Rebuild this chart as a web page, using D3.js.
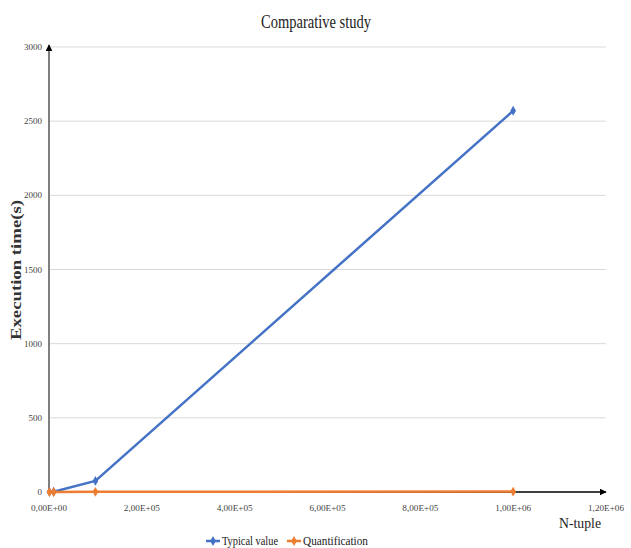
<!DOCTYPE html>
<html>
<head>
<meta charset="utf-8">
<script src="https://cdn.jsdelivr.net/npm/d3@7"></script>
<style>
  body { margin: 0; background: #fff; }
  svg { display: block; }
  text { font-family: "Liberation Serif", "Times New Roman", serif; }
</style>
</head>
<body>
<svg id="chart" width="631" height="548"></svg>
<script>
// Input sizes (number of tuples)
const nTuples = [1000, 10000, 100000, 1000000];
// Execution time in seconds for each approach
const typicalValue = [0.5, 2, 75, 2570];
const quantification = [0.1, 0.3, 1, 3];
// Axis ticks
const xTicks = [0, 200000, 400000, 600000, 800000, 1000000, 1200000];
const xTickLabels = ["0,00E+00", "2,00E+05", "4,00E+05", "6,00E+05", "8,00E+05", "1,00E+06", "1,20E+06"];
const yTicks = [0, 500, 1000, 1500, 2000, 2500, 3000];

const series = [
  { name: "Typical value", values: typicalValue, color: "#4472C4" },
  { name: "Quantification", values: quantification, color: "#ED7D31" }
];

const svg = d3.select("#chart");
const plot = { left: 49, right: 606, top: 47, bottom: 492 };

const x = d3.scaleLinear().domain([0, 1200000]).range([plot.left, plot.right]);
const y = d3.scaleLinear().domain([0, 3000]).range([plot.bottom, plot.top]);

// Title
svg.append("text")
  .attr("x", 316).attr("y", 28)
  .attr("text-anchor", "middle")
  .attr("font-size", 19)
  .attr("fill", "#222")
  .attr("textLength", 110)
  .attr("lengthAdjust", "spacingAndGlyphs")
  .text("Comparative study");

// Horizontal gridlines
svg.append("g")
  .selectAll("line")
  .data(yTicks.filter(d => d > 0))
  .join("line")
  .attr("x1", plot.left).attr("x2", plot.right)
  .attr("y1", d => y(d)).attr("y2", d => y(d))
  .attr("stroke", "#d9d9d9").attr("stroke-width", 1);

// Y tick labels
svg.append("g")
  .selectAll("text")
  .data(yTicks)
  .join("text")
  .attr("x", plot.left - 7).attr("y", d => y(d) + 3)
  .attr("text-anchor", "end")
  .attr("font-size", 9)
  .attr("fill", "#444")
  .text(d => d);

// X tick labels
svg.append("g")
  .selectAll("text")
  .data(xTicks)
  .join("text")
  .attr("x", d => x(d)).attr("y", plot.bottom + 19)
  .attr("text-anchor", "middle")
  .attr("font-size", 9)
  .attr("fill", "#444")
  .attr("textLength", 36)
  .attr("lengthAdjust", "spacingAndGlyphs")
  .text((d, i) => xTickLabels[i]);

// Arrowheads
const defs = svg.append("defs");
defs.append("marker")
  .attr("id", "arrow")
  .attr("viewBox", "0 0 10 10")
  .attr("refX", 9).attr("refY", 5)
  .attr("markerWidth", 7).attr("markerHeight", 7)
  .attr("markerUnits", "userSpaceOnUse")
  .attr("orient", "auto")
  .append("path")
  .attr("d", "M0,0 L10,5 L0,10 Z")
  .attr("fill", "#000");

// Y axis line
svg.append("line")
  .attr("x1", plot.left).attr("x2", plot.left)
  .attr("y1", plot.bottom).attr("y2", plot.top - 2)
  .attr("stroke", "#7f7f7f").attr("stroke-width", 2)
  .attr("marker-end", "url(#arrow)");

// X axis line
svg.append("line")
  .attr("x1", plot.left).attr("x2", plot.right)
  .attr("y1", plot.bottom).attr("y2", plot.bottom)
  .attr("stroke", "#000").attr("stroke-width", 1.5)
  .attr("marker-end", "url(#arrow)");

// Series lines and markers
const line = d3.line().x((d, i) => x(nTuples[i])).y(d => y(d));
const diamond = d3.symbol().type(d3.symbolDiamond).size(28);

series.forEach(s => {
  svg.append("path")
    .datum(s.values)
    .attr("d", line)
    .attr("fill", "none")
    .attr("stroke", s.color)
    .attr("stroke-width", 2.5)
    .attr("stroke-linejoin", "round");
  svg.append("g")
    .selectAll("path")
    .data(s.values)
    .join("path")
    .attr("transform", (d, i) => `translate(${x(nTuples[i])},${y(d)})`)
    .attr("d", diamond)
    .attr("fill", s.color);
});

// Axis titles
svg.append("text")
  .attr("transform", "translate(21,270) rotate(-90)")
  .attr("text-anchor", "middle")
  .attr("font-size", 15)
  .attr("font-weight", "bold")
  .attr("fill", "#333")
  .attr("textLength", 140)
  .attr("lengthAdjust", "spacingAndGlyphs")
  .text("Execution time(s)");

svg.append("text")
  .attr("x", 580).attr("y", 528)
  .attr("text-anchor", "middle")
  .attr("font-size", 15)
  .attr("fill", "#222")
  .attr("textLength", 42)
  .attr("lengthAdjust", "spacingAndGlyphs")
  .text("N-tuple");

// Legend
const legend = svg.append("g").attr("transform", "translate(206,541)");
const legendItems = [
  { s: series[0], dx: 0, w: 56 },
  { s: series[1], dx: 81, w: 65 }
];
legendItems.forEach(({ s, dx, w }) => {
  const g = legend.append("g").attr("transform", `translate(${dx},0)`);
  g.append("line")
    .attr("x1", 0).attr("x2", 14).attr("y1", 0).attr("y2", 0)
    .attr("stroke", s.color).attr("stroke-width", 2.5);
  g.append("path")
    .attr("transform", "translate(7,0)")
    .attr("d", diamond)
    .attr("fill", s.color);
  g.append("text")
    .attr("x", 16).attr("y", 4)
    .attr("font-size", 12)
    .attr("fill", "#222")
    .attr("textLength", w)
    .attr("lengthAdjust", "spacingAndGlyphs")
    .text(s.name);
});
</script>
</body>
</html>
